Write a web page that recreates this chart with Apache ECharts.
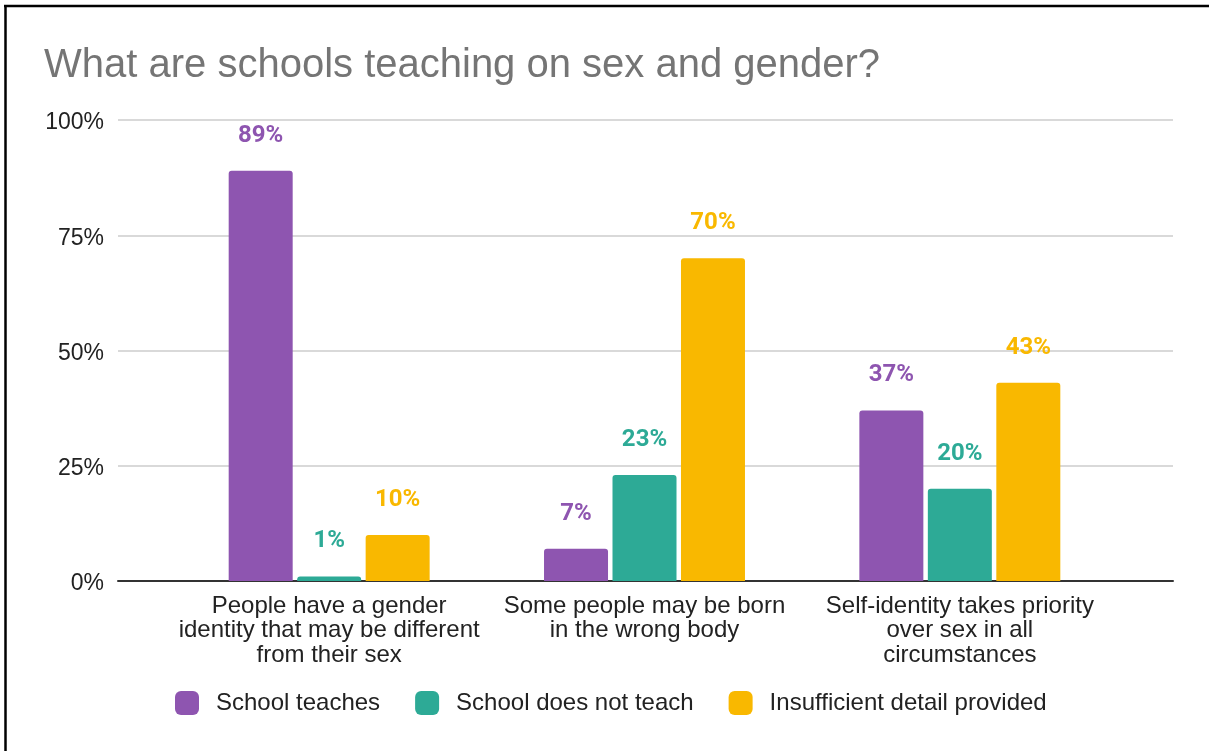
<!DOCTYPE html>
<html>
<head>
<meta charset="utf-8">
<style>
  html, body { margin: 0; padding: 0; background: #ffffff; }
  #chart { width: 1209px; height: 751px; }
</style>
<script src="https://cdn.jsdelivr.net/npm/echarts@6/dist/echarts.min.js"></script>
</head>
<body>
<div id="chart"></div>
<script>
// Survey statements (category axis)
const statements = [
  'People have a gender\nidentity that may be different\nfrom their sex',
  'Some people may be born\nin the wrong body',
  'Self-identity takes priority\nover sex in all\ncircumstances'
];

// Share of schools (%) per answer
const schoolTeaches = [89, 7, 37];
const schoolDoesNotTeach = [1, 23, 20];
const insufficientDetail = [10, 70, 43];

const seriesNames = ['School teaches', 'School does not teach', 'Insufficient detail provided'];
const seriesColors = ['#8E55B0', '#2DAA96', '#F9B800'];

const chart = echarts.init(document.getElementById('chart'), null, { renderer: 'canvas' });

const FONT = '"Liberation Sans", Arial, sans-serif';

function barSeries(idx, data) {
  return {
    name: seriesNames[idx],
    type: 'bar',
    xAxisIndex: 1,
    yAxisIndex: 1,
    data: data,
    barWidth: 64,
    barGap: '7%',
    itemStyle: { color: seriesColors[idx], borderRadius: [3, 3, 0, 0] },
    label: {
      show: true,
      position: 'top',
      distance: 23,
      formatter: '{c}%',
      color: seriesColors[idx],
      fontFamily: 'Roboto, sans-serif',
      fontWeight: 'bold',
      fontSize: 24
    }
  };
}

const option = {
  animation: false,
  backgroundColor: '#ffffff',
  title: {
    text: 'What are schools teaching on sex and gender?',
    left: 44,
    top: 46,
    padding: 0,
    textStyle: { color: '#757575', fontFamily: FONT, fontWeight: 'normal', fontSize: 40 }
  },
  legend: {
    data: seriesNames,
    left: 175,
    top: 691,
    padding: 0,
    icon: 'roundRect',
    itemWidth: 24,
    itemHeight: 24,
    itemGap: 35,
    textStyle: { color: '#222222', fontFamily: FONT, fontSize: 24, padding: [0, 0, 0, 12] }
  },
  grid: [
    // full-width frame: value gridlines and the baseline
    { left: 118, right: 36, top: 120, bottom: 170 },
    // inset plotting band holding the bar groups
    { left: 171.5, right: 91.5, top: 120, bottom: 170 }
  ],
  xAxis: [
    {
      gridIndex: 0, type: 'value', min: 0, max: 1,
      axisLine: { show: true, lineStyle: { color: '#333333', width: 2 } },
      axisTick: { show: false }, axisLabel: { show: false }, splitLine: { show: false }
    },
    {
      gridIndex: 1, type: 'category', data: statements,
      axisLine: { show: false }, axisTick: { show: false },
      axisLabel: {
        color: '#222222', fontFamily: FONT, fontSize: 24, lineHeight: 24.5,
        margin: 13, interval: 0, align: 'center'
      }
    }
  ],
  yAxis: [
    {
      gridIndex: 0, type: 'value', min: 0, max: 100, interval: 25,
      axisLine: { show: false }, axisTick: { show: false },
      axisLabel: {
        formatter: '{t|{value}%}', margin: 14,
        rich: {
          t: { color: '#222222', fontFamily: FONT, fontSize: 23, padding: [6, 0, 0, 0] }
        }
      },
      splitLine: { lineStyle: { color: '#cccccc', width: 1.5 } }
    },
    {
      gridIndex: 1, type: 'value', min: 0, max: 100, interval: 25, show: false,
      splitLine: { show: false }
    }
  ],
  series: [
    barSeries(0, schoolTeaches),
    barSeries(1, schoolDoesNotTeach),
    barSeries(2, insufficientDetail)
  ],
  graphic: [
    // frame edges along the top and left
    { type: 'line', shape: { x1: 4, y1: 6, x2: 1209, y2: 6 }, style: { stroke: '#000000', lineWidth: 2.5 }, z: 100 },
    { type: 'line', shape: { x1: 5.5, y1: 5, x2: 5.5, y2: 751 }, style: { stroke: '#000000', lineWidth: 2.5 }, z: 100 }
  ]
};

chart.setOption(option);
</script>
</body>
</html>
